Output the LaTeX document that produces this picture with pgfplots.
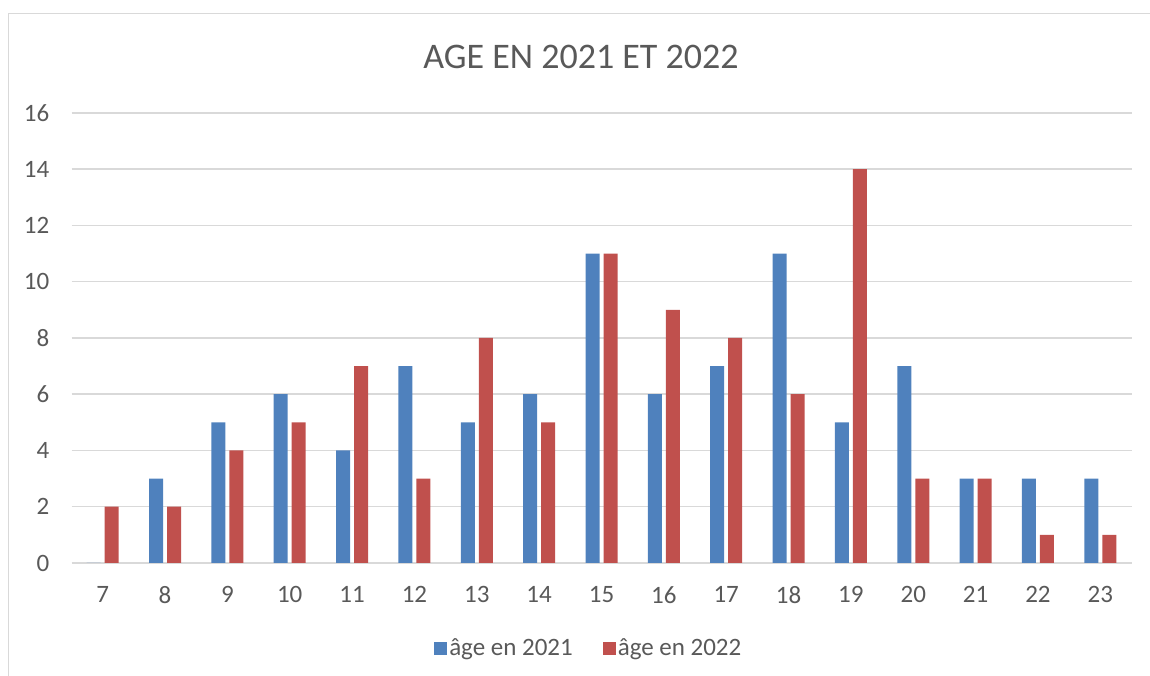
\documentclass[border=0pt]{standalone}
\usepackage{pgfplots}
\pgfplotsset{compat=1.18}
\usepackage{fontspec}
\setmainfont{Carlito}
\definecolor{bleu}{HTML}{4F81BD}
\definecolor{rouge}{HTML}{C0504D}
\definecolor{texte}{HTML}{595959}
\definecolor{grille}{HTML}{D9D9D9}

\pgfplotstableread{
age a2021 a2022
7   0  2
8   3  2
9   5  4
10  6  5
11  4  7
12  7  3
13  5  8
14  6  5
15  11 11
16  6  9
17  7  8
18  11 6
19  5  14
20  7  3
21  3  3
22  3  1
23  3  1
}\donnees

\begin{document}
\begin{tikzpicture}[x=1bp,y=1bp]
\useasboundingbox (0,0) rectangle (1150,676);
% cadre du graphique
\draw[grille, line width=1.5bp] (8.5,-5) -- (8.5,662.5) -- (1160,662.5);
\begin{axis}[
    at={(71.5bp,113bp)}, anchor=south west,
    width=1060bp, height=450bp, scale only axis,
    ybar,
    xmin=6.5, xmax=23.5,
    ymin=0, ymax=16,
    xtick={7,...,23},
    ytick={0,2,...,16},
    ymajorgrids,
    grid style={grille, line width=1.5bp},
    axis line style={draw=none},
    major tick length=0pt,
    tick label style={font=\fontsize{25bp}{29bp}\selectfont, text=texte, inner sep=0pt},
    yticklabel style={anchor=east, xshift=-22bp},
    xticklabel style={anchor=north, yshift=-23bp},
    /pgf/number format/assume math mode=true,
    legend style={at={(0.488,-0.189)}, anchor=center, draw=none, fill=none,
        font=\fontsize{25bp}{29bp}\selectfont, text=texte,
        legend columns=2,
        /tikz/every even column/.append style={column sep=28bp}},
    legend image code/.code={\fill[#1] (0bp,-6.5bp) rectangle (13bp,6.5bp);},
]
\addplot[fill=bleu, draw=none, bar width=14bp, bar shift=-9bp] table[x=age, y=a2021] {\donnees};
\addlegendentry{âge en 2021}
\addplot[fill=rouge, draw=none, bar width=14bp, bar shift=9bp] table[x=age, y=a2022] {\donnees};
\addlegendentry{âge en 2022}
\end{axis}
\node[anchor=base, text=texte, font=\fontsize{36bp}{42bp}\selectfont] at (581,607) {AGE EN 2021 ET 2022};
\end{tikzpicture}
\end{document}
